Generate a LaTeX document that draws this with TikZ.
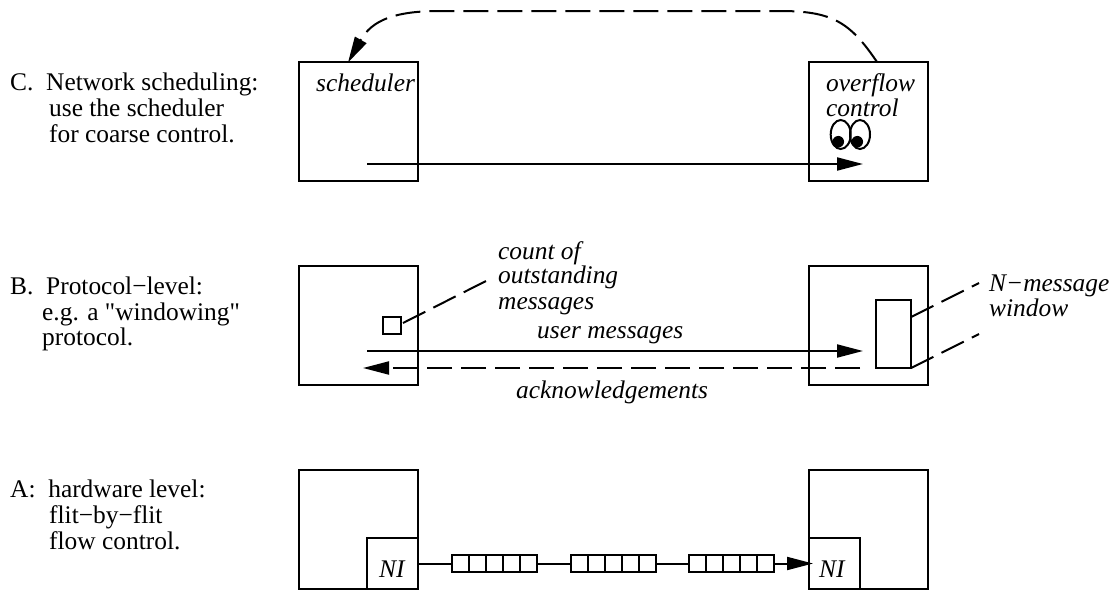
\documentclass[tikz,border=0pt]{standalone}
\usepackage{fontspec}
\setmainfont{Liberation Serif}
\newfontfamily\plainquote{Liberation Serif}
\usetikzlibrary{arrows.meta,shapes.geometric}
\tikzset{
  x=1pt,y=-1pt,
  line/.style={draw=black,line width=2pt,outer sep=0pt},
  hostbox/.style={line,rectangle,minimum width=119pt,minimum height=119pt,inner sep=0pt,anchor=north west},
  cell/.style={line,rectangle,minimum width=17pt,minimum height=17pt,inner sep=0pt,anchor=west},
  dashline/.style={line,dash pattern=on 25pt off 9pt},
  arrowtip/.style={-{Triangle[length=26pt,width=13pt]}},
  lab/.style={font=\fontsize{25.4}{25.4}\selectfont,anchor=base west,inner sep=0pt},
  ital/.style={lab,font=\fontsize{25.4}{25.4}\selectfont\itshape},
  eye/.style={line,ellipse,minimum width=20pt,minimum height=29pt,inner sep=0pt},
  pupil/.style={circle,fill=black,minimum size=11.5pt,inner sep=0pt},
  nibox/.style={line,rectangle,minimum width=51pt,minimum height=51pt,inner sep=0pt},
}
\newcommand{\qcells}[2]{%
  \node[cell] (#1a) at (#2,563.5) {};
  \node[cell] (#1b) at (#1a.east) {};
  \node[cell] (#1c) at (#1b.east) {};
  \node[cell] (#1d) at (#1c.east) {};
  \node[cell] (#1e) at (#1d.east) {};
}
\begin{document}
\begin{tikzpicture}
\useasboundingbox (0,0) rectangle (1113,592);
% labels
\node[lab] (lc1) at (10,90) {C.\ \ Network scheduling:};
\node[lab] (lc2) at (49,116) {use the scheduler};
\node[lab] (lc3) at (49,142) {for coarse control.};
\node[lab] (lb1) at (10,294) {B.\ \ Protocol−level:};
\node[lab] (lb2) at (42,320) {e.g. a {\plainquote"}windowing{\plainquote"}};
\node[lab] (lb3) at (42,345) {protocol.};
\node[lab] (la1) at (10,497) {A:\ \ hardware level:};
\node[lab] (la2) at (49,523) {flit−by−flit};
\node[lab] (la3) at (49,549) {flow control.};
% hosts
\node[hostbox] (c1) at (299,62) {};
\node[hostbox] (c2) at (809,62) {};
\node[hostbox] (b1) at (299,266) {};
\node[hostbox] (b2) at (809,266) {};
\node[hostbox] (a1) at (299,470) {};
\node[hostbox] (a2) at (809,470) {};
% row C
\node[ital] (tsch) at (316,91) {scheduler};
\node[ital] (tov) at (826,91) {overflow};
\node[ital] (tco) at (826,116) {control};
\coordinate (cs) at (367,164);
\coordinate (ce) at (863,164);
\draw[line,arrowtip] (cs) -- (ce);
\coordinate (ctr) at (877,62);
\coordinate (ctl) at (348,62.5);
\draw[dashline,arrowtip] (ctr) .. controls (850,22) and (832,11) .. (780,11) -- (440,11) .. controls (395,11) and (372,20) .. (ctl);
\node[eye] (eye1) at (840.7,134.5) {};
\node[eye] (eye2) at (860,134.5) {};
\node[pupil] (pup1) at (838.3,141.7) {};
\node[pupil] (pup2) at (857.3,141.7) {};
% row B
\node[line,rectangle,minimum width=18pt,minimum height=17pt,inner sep=0pt] (cnt) at (392,325.5) {};
\node[line,rectangle,minimum width=35pt,minimum height=68pt,inner sep=0pt] (win) at (893.5,334) {};
\coordinate (bs) at (367,351);
\coordinate (be) at (863,351);
\draw[line,arrowtip] (bs) -- (be);
\coordinate (as) at (860,368);
\coordinate (ae) at (363,368);
\draw[dashline,arrowtip] (as) -- (ae);
\coordinate (cf) at (486,281);
\coordinate (cn) at (403,323);
\draw[dashline] (cn) -- (cf);
\coordinate (w0) at (911,317);
\coordinate (w1) at (979,283);
\coordinate (w2) at (979,334);
\draw[dashline] (w0) -- (w1);
\draw[dashline] (win.south east) -- (w2);
\node[ital] (t1) at (498,259) {count of};
\node[ital] (t2) at (498,283) {outstanding};
\node[ital] (t3) at (498,309) {messages};
\node[ital] (t4) at (537,338) {user messages};
\node[ital] (t5) at (516,398) {acknowledgements};
\node[ital] (t6) at (989,291) {N−message};
\node[ital] (t7) at (989,316) {window};
% row A
\node[nibox,anchor=south east] (ni1) at (a1.south east) {};
\node[nibox,anchor=south west] (ni2) at (a2.south west) {};
\node[ital] at (379,577) (n1) {NI};
\node[ital] at (819,577) (n2) {NI};
\qcells{p}{452}
\qcells{q}{571}
\qcells{r}{689}
\coordinate (nie) at (813,563.5);
\draw[line] (ni1.east |- pa.west) -- (pa.west);
\draw[line] (pe.east) -- (qa.west);
\draw[line] (qe.east) -- (ra.west);
\draw[line,arrowtip] (re.east) -- (nie);
\end{tikzpicture}
\end{document}
